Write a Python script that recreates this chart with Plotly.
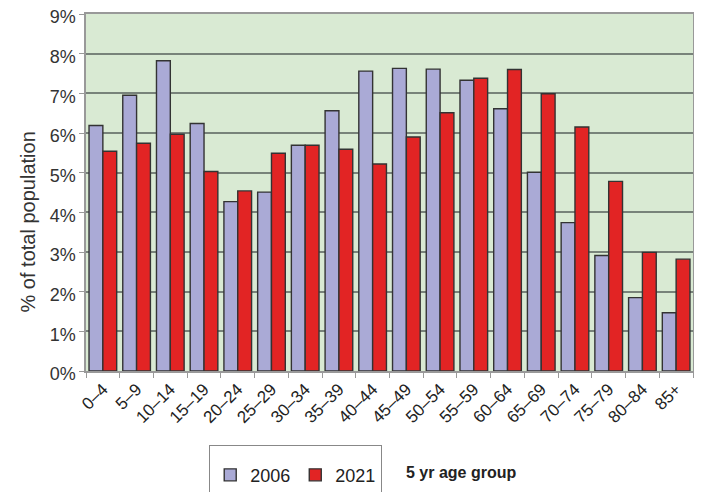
import plotly.graph_objects as go

# 5-year age groups
age_groups = ['0–4', '5–9', '10–14', '15–19', '20–24', '25–29', '30–34', '35–39',
              '40–44', '45–49', '50–54', '55–59', '60–64', '65–69', '70–74',
              '75–79', '80–84', '85+']

# % of total population
pct_2006 = [6.19, 6.95, 7.82, 6.24, 4.27, 4.51, 5.69, 6.56, 7.56, 7.63, 7.61,
            7.33, 6.61, 5.01, 3.74, 2.91, 1.85, 1.47]
pct_2021 = [5.54, 5.74, 5.97, 5.03, 4.54, 5.49, 5.69, 5.59, 5.22, 5.90, 6.51,
            7.38, 7.60, 6.99, 6.15, 4.78, 2.99, 2.82]

fig = go.Figure()

fig.add_trace(go.Bar(
    x=age_groups,
    y=pct_2006,
    name='2006',
    marker=dict(color='#aaaad6', line=dict(color='#333333', width=1.4)),
))
fig.add_trace(go.Bar(
    x=age_groups,
    y=pct_2021,
    name='2021',
    marker=dict(color='#e22424', line=dict(color='#333333', width=1.4)),
))

# page body has an 8px margin, so the figure is shifted by 8px
# (legend box runs off the bottom edge, as in the source image)
fig.update_layout(
    width=694,
    height=492,
    barmode='group',
    bargap=0.18,
    bargroupgap=0,
    plot_bgcolor='#d9ead3',
    paper_bgcolor='white',
    font=dict(family='Liberation Sans, Arial, sans-serif', color='#333333'),
    margin=dict(l=78, r=9, t=6, b=125),
    showlegend=True,
    legend=dict(
        orientation='h',
        x=0.203,
        y=-0.208,
        xanchor='left',
        yanchor='top',
        bordercolor='#888888',
        borderwidth=1,
        font=dict(size=18, color='#222222'),
        title=dict(text=' ', side='top', font=dict(size=8)),
        itemwidth=30,
        traceorder='normal',
        tracegroupgap=0,
    ),
    xaxis=dict(
        type='category',
        automargin=False,
        tickson='boundaries',
        ticks='outside',
        ticklen=5,
        tickcolor='#999999',
        tickangle=-45,
        tickfont=dict(size=17, color='#222222'),
        showgrid=False,
        showline=True,
        linecolor='#999999',
        linewidth=1.5,
        mirror=True,
    ),
    yaxis=dict(
        automargin=False,
        range=[0, 9],
        dtick=1,
        ticksuffix='%',
        ticks='outside',
        ticklen=5,
        tickcolor='#999999',
        tickfont=dict(size=18, color='#333333'),
        ticklabeloverflow='allow',
        ticklabelshift=3,
        showgrid=True,
        gridcolor='#78837a',
        gridwidth=1.6,
        showline=True,
        linecolor='#999999',
        linewidth=1.5,
        mirror=True,
        zeroline=False,
    ),
    annotations=[
        dict(
            text='% of total population',
            xref='paper', yref='paper',
            x=-0.095, y=0.417,
            xanchor='center', yanchor='middle',
            textangle=-90,
            showarrow=False,
            font=dict(size=20, color='#333333'),
        ),
        dict(
            text='<b>5 yr age group</b>',
            xref='paper', yref='paper',
            x=0.618, y=-0.285,
            xanchor='center', yanchor='middle',
            showarrow=False,
            font=dict(size=16, color='#222222'),
        ),
    ],
)

fig.write_html("out.html")
